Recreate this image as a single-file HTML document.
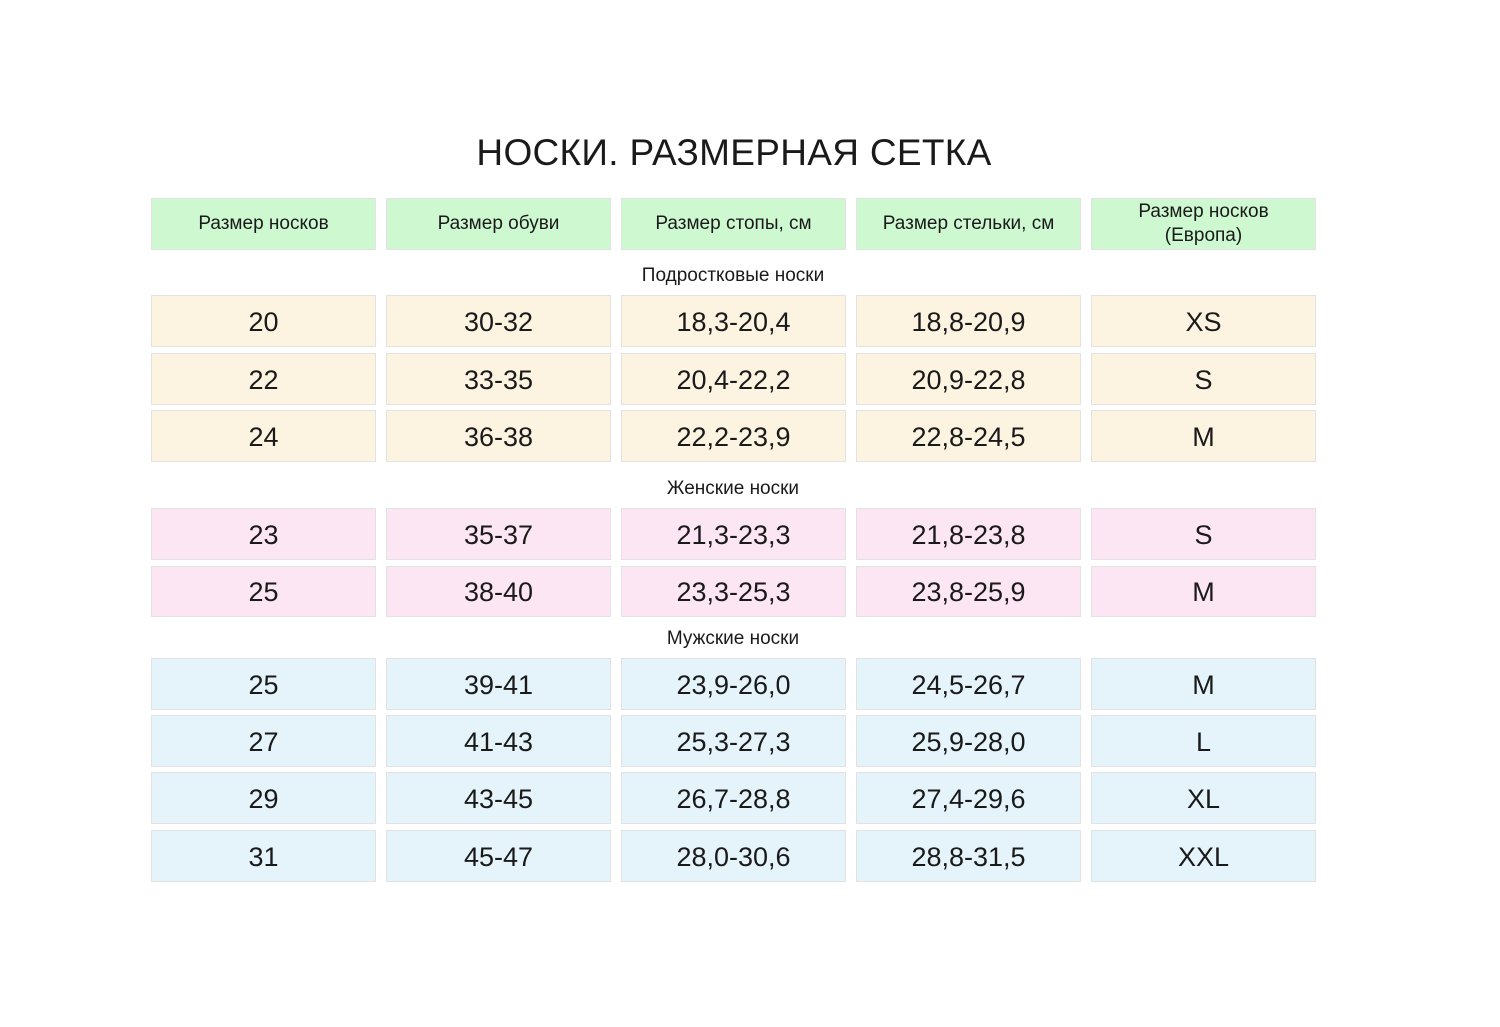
<!DOCTYPE html>
<html><head><meta charset="utf-8"><style>
body{margin:0;width:1500px;height:1027px;background:#fff;position:relative;overflow:hidden;font-family:"Liberation Sans","DejaVu Sans",sans-serif;color:#1a1a1a}
.c{position:absolute;width:223px;border:1px solid #e2e2e2;display:flex;align-items:center;justify-content:center;text-align:center;box-sizing:content-box}
.h{background:#cdf8d0;font-size:19px;line-height:24px}
.y,.p,.b{font-size:27px;padding-top:2px}
.y{background:#fdf3e1}
.p{background:#fde6f3}
.b{background:#e5f3fb}
.t{position:absolute;left:0;width:1466px;text-align:center;font-size:19px}
</style></head><body>
<div style="position:absolute;left:0;width:1468px;top:132px;text-align:center;font-size:37px;letter-spacing:0.3px">НОСКИ. РАЗМЕРНАЯ СЕТКА</div>
<div class="c h" style="left:151px;top:198px;height:50px">Размер носков</div>
<div class="c h" style="left:386px;top:198px;height:50px">Размер обуви</div>
<div class="c h" style="left:621px;top:198px;height:50px">Размер стопы, см</div>
<div class="c h" style="left:856px;top:198px;height:50px">Размер стельки, см</div>
<div class="c h" style="left:1091px;top:198px;height:50px">Размер носков<br>(Европа)</div>
<div class="t" style="top:265px">Подростковые носки</div>
<div class="t" style="top:478px">Женские носки</div>
<div class="t" style="top:628px">Мужские носки</div>

<div class="c y" style="left:151px;top:295px;height:48px">20</div>
<div class="c y" style="left:386px;top:295px;height:48px">30-32</div>
<div class="c y" style="left:621px;top:295px;height:48px">18,3-20,4</div>
<div class="c y" style="left:856px;top:295px;height:48px">18,8-20,9</div>
<div class="c y" style="left:1091px;top:295px;height:48px">XS</div>

<div class="c y" style="left:151px;top:353px;height:48px">22</div>
<div class="c y" style="left:386px;top:353px;height:48px">33-35</div>
<div class="c y" style="left:621px;top:353px;height:48px">20,4-22,2</div>
<div class="c y" style="left:856px;top:353px;height:48px">20,9-22,8</div>
<div class="c y" style="left:1091px;top:353px;height:48px">S</div>

<div class="c y" style="left:151px;top:410px;height:48px">24</div>
<div class="c y" style="left:386px;top:410px;height:48px">36-38</div>
<div class="c y" style="left:621px;top:410px;height:48px">22,2-23,9</div>
<div class="c y" style="left:856px;top:410px;height:48px">22,8-24,5</div>
<div class="c y" style="left:1091px;top:410px;height:48px">M</div>

<div class="c p" style="left:151px;top:508px;height:48px">23</div>
<div class="c p" style="left:386px;top:508px;height:48px">35-37</div>
<div class="c p" style="left:621px;top:508px;height:48px">21,3-23,3</div>
<div class="c p" style="left:856px;top:508px;height:48px">21,8-23,8</div>
<div class="c p" style="left:1091px;top:508px;height:48px">S</div>

<div class="c p" style="left:151px;top:566px;height:47px">25</div>
<div class="c p" style="left:386px;top:566px;height:47px">38-40</div>
<div class="c p" style="left:621px;top:566px;height:47px">23,3-25,3</div>
<div class="c p" style="left:856px;top:566px;height:47px">23,8-25,9</div>
<div class="c p" style="left:1091px;top:566px;height:47px">M</div>

<div class="c b" style="left:151px;top:658px;height:48px">25</div>
<div class="c b" style="left:386px;top:658px;height:48px">39-41</div>
<div class="c b" style="left:621px;top:658px;height:48px">23,9-26,0</div>
<div class="c b" style="left:856px;top:658px;height:48px">24,5-26,7</div>
<div class="c b" style="left:1091px;top:658px;height:48px">M</div>

<div class="c b" style="left:151px;top:715px;height:48px">27</div>
<div class="c b" style="left:386px;top:715px;height:48px">41-43</div>
<div class="c b" style="left:621px;top:715px;height:48px">25,3-27,3</div>
<div class="c b" style="left:856px;top:715px;height:48px">25,9-28,0</div>
<div class="c b" style="left:1091px;top:715px;height:48px">L</div>

<div class="c b" style="left:151px;top:772px;height:48px">29</div>
<div class="c b" style="left:386px;top:772px;height:48px">43-45</div>
<div class="c b" style="left:621px;top:772px;height:48px">26,7-28,8</div>
<div class="c b" style="left:856px;top:772px;height:48px">27,4-29,6</div>
<div class="c b" style="left:1091px;top:772px;height:48px">XL</div>

<div class="c b" style="left:151px;top:830px;height:48px">31</div>
<div class="c b" style="left:386px;top:830px;height:48px">45-47</div>
<div class="c b" style="left:621px;top:830px;height:48px">28,0-30,6</div>
<div class="c b" style="left:856px;top:830px;height:48px">28,8-31,5</div>
<div class="c b" style="left:1091px;top:830px;height:48px">XXL</div>
</body></html>
